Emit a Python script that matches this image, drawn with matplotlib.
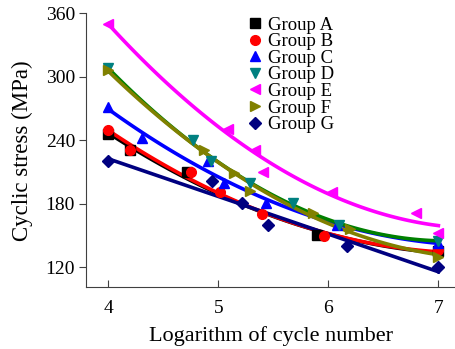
import numpy as np
import matplotlib
matplotlib.use("Agg")
import matplotlib.pyplot as plt

plt.rcParams["font.family"] = "Liberation Serif"
plt.rcParams["mathtext.fontset"] = "stix"

# Data (log cycles, MPa)
groups = ["Group A", "Group B", "Group C", "Group D", "Group E", "Group F", "Group G"]
colors = ["#000000", "#ff0000", "#0000ff", "#008080", "#ff00ff", "#808000", "#000080"]
fit_colors = ["#000000", "#ff0000", "#0000ff", "#008000", "#ff00ff", "#808000", "#000080"]
markers = ["s", "o", "^", "v", "<", ">", "D"]

xa = [4.0, 4.2, 4.72, 5.9, 7.0]
ya = [246, 231, 210, 150, 135]
xb = [4.0, 4.2, 4.75, 5.02, 5.4, 5.96, 7.0]
yb = [250, 231, 210, 191, 170, 149, 136]
xc = [4.0, 4.31, 4.91, 5.05, 5.43, 6.08, 7.0]
yc = [271, 242, 220, 200, 181, 160, 143]
xd = [4.0, 4.77, 4.93, 5.29, 5.68, 6.1, 7.0]
yd = [308, 240, 220, 200, 181, 160, 145]
xe = [4.0, 5.09, 5.33, 5.41, 6.03, 6.8, 7.0]
ye = [350, 251, 231, 210, 191, 171, 152]
xf = [4.0, 4.87, 5.14, 5.29, 5.86, 6.2, 7.0]
yf = [306, 231, 209, 192, 171, 156, 130]
xg = [4.0, 4.94, 5.22, 5.45, 6.17, 7.0]
yg = [220, 201, 181, 160, 140, 120]

xs = [xa, xb, xc, xd, xe, xf, xg]
ys = [ya, yb, yc, yd, ye, yf, yg]
fit_deg = [2, 2, 2, 2, 2, 2, 1]

fig = plt.figure(figsize=(4.56, 3.49), dpi=100)
ax = fig.add_axes([0.189, 0.177, 0.811, 0.785])

xx = np.linspace(4, 7, 100)
for x, y, deg, fc in zip(xs, ys, fit_deg, fit_colors):
    p = np.polyfit(x, y, deg)
    ax.plot(xx, np.polyval(p, xx), color=fc, lw=2.6, zorder=2)

for x, y, g, c, m in zip(xs, ys, groups, colors, markers):
    ax.plot(x, y, ls="none", marker=m, color=c, ms=7 if m != "D" else 6,
            label=g, zorder=3)

ax.set_xlim(3.8, 7.16)
ax.set_ylim(101, 360)
ax.set_xticks([4, 5, 6, 7])
ax.set_yticks([120, 180, 240, 300, 360])
ax.spines["top"].set_visible(False)
ax.spines["right"].set_visible(False)
for s in ["left", "bottom"]:
    ax.spines[s].set_color("#404040")
    ax.spines[s].set_linewidth(0.8)
ax.tick_params(axis="y", direction="out", length=5, labelsize=14, color="#404040", pad=3)
ax.tick_params(axis="x", direction="in", length=5, labelsize=14, color="#404040", pad=9)

ax.set_xlabel("Logarithm of cycle number", fontsize=16, labelpad=7)
ax.set_ylabel("Cyclic stress (MPa)", fontsize=16.5, labelpad=9)

ax.legend(loc="upper left", bbox_to_anchor=(0.415, 1.015), frameon=False,
          fontsize=13.5, handlelength=0.8, handletextpad=0.3, labelspacing=-0.03,
          borderaxespad=0)

fig.savefig("out.png", dpi=100)
